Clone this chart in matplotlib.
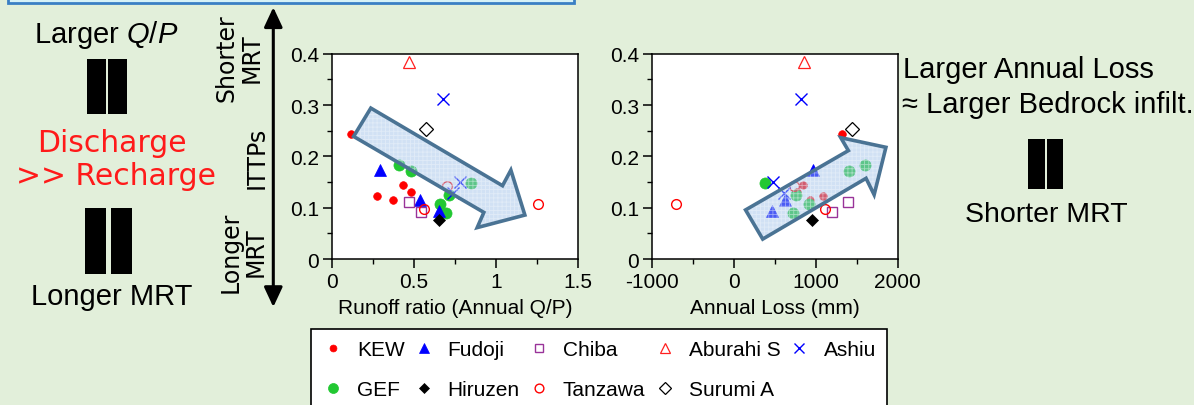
import matplotlib
matplotlib.use("Agg")
import matplotlib.pyplot as plt
from matplotlib.patches import Rectangle, Polygon
from matplotlib.ticker import MultipleLocator, FixedLocator

plt.rcParams['font.family'] = ['Liberation Sans', 'DejaVu Sans']
plt.rcParams['mathtext.fontset'] = 'custom'
plt.rcParams['mathtext.it'] = 'Liberation Sans:italic'
plt.rcParams['mathtext.rm'] = 'Liberation Sans'
plt.rcParams['hatch.linewidth'] = 0.6

# ---------------- data ----------------
kew_qp = [0.116, 0.273, 0.375, 0.432, 0.485]
kew_ittp = [0.244, 0.122, 0.1155, 0.1447, 0.1305]
kew_loss = [1323, 1091, 932, 838, 765]

gef_qp = [0.410, 0.485, 0.848, 0.713, 0.658, 0.699]
gef_ittp = [0.183, 0.171, 0.148, 0.124, 0.108, 0.090]
gef_loss = [1605, 1401, 378, 761, 916, 716]

fud_qp = [0.296, 0.538, 0.654]
fud_ittp = [0.174, 0.114, 0.0935]
fud_loss = [961, 626, 463]

hir_qp = [0.656]
hir_ittp = [0.0753]
hir_loss = [952]

chi_qp = [0.471, 0.544]
chi_ittp = [0.112, 0.0915]
chi_loss = [1393, 1201]

tan_qp = [1.255, 0.705, 0.560]
tan_ittp = [0.107, 0.142, 0.098]
tan_loss = [-715, 732, 1115]

abu_qp = [0.471]
abu_ittp = [0.383]
abu_loss = [851]

sur_qp = [0.571]
sur_ittp = [0.2525]
sur_loss = [1446]

ash_qp = [0.675, 0.781, 0.736]
ash_ittp = [0.3115, 0.1506, 0.128]
ash_loss = [818, 480, 614]

y_ticks = [0, 0.1, 0.2, 0.3, 0.4]
y_ticklabels = ["0", "0.1", "0.2", "0.3", "0.4"]
x1_ticks = [0, 0.5, 1, 1.5]
x1_ticklabels = ["0", "0.5", "1", "1.5"]
x2_ticks = [-1000, 0, 1000, 2000]
x2_ticklabels = ["-1000", "0", "1000", "2000"]

# ---------------- figure ----------------
W, H = 1194, 406
BG = '#e2efda'
fig = plt.figure(figsize=(W / 100, H / 100), dpi=100, facecolor=BG)


def fx(x):
    return x / W


def fy(y):
    return 1 - y / H


ax1 = fig.add_axes([fx(332), fy(260), fx(577.7) - fx(332), fy(54.7) - fy(260)])
ax2 = fig.add_axes([fx(652.3), fy(260), fx(897.7) - fx(652.3), fy(54.7) - fy(260)])

series = [
    # name, xqp, xloss, y, marker, ms, face, edge, mew
    ("KEW", kew_qp, kew_loss, kew_ittp, 'o', 5.5, '#ff0000', '#ff0000', 0.5),
    ("GEF", gef_qp, gef_loss, gef_ittp, 'o', 8.0, '#22c832', '#22c832', 0.5),
    ("Fudoji", fud_qp, fud_loss, fud_ittp, '^', 8.5, '#0000ff', '#0000ff', 0.5),
    ("Hiruzen", hir_qp, hir_loss, hir_ittp, 'D', 6.0, '#000000', '#000000', 0.5),
    ("Chiba", chi_qp, chi_loss, chi_ittp, 's', 7.0, 'none', '#993399', 1.0),
    ("Tanzawa", tan_qp, tan_loss, tan_ittp, 'o', 7.0, 'none', '#ff0000', 1.0),
    ("Aburahi S", abu_qp, abu_loss, abu_ittp, '^', 8.5, 'none', '#ff2020', 0.9),
    ("Surumi A", sur_qp, sur_loss, sur_ittp, 'D', 7.0, 'none', '#000000', 0.9),
    ("Ashiu", ash_qp, ash_loss, ash_ittp, 'x', 8.0, '#0000ff', '#0000ff', 1.0),
]

handles = []
for name, xq, xl, yv, mk, ms, fc, ec, mew in series:
    h, = ax1.plot(xq, yv, linestyle='none', marker=mk, ms=ms, mfc=fc, mec=ec,
                  mew=mew, label=name, zorder=3)
    ax2.plot(xl, yv, linestyle='none', marker=mk, ms=ms, mfc=fc, mec=ec,
             mew=mew, zorder=3)
    handles.append(h)

for ax, xt, xtl, xlim, xminor, xlabel in [
        (ax1, x1_ticks, x1_ticklabels, (0, 1.5), 0.25, "Runoff ratio (Annual Q/P)"),
        (ax2, x2_ticks, x2_ticklabels, (-1000, 2000), 500, "Annual Loss (mm)")]:
    ax.set_facecolor('white')
    ax.set_xlim(*xlim)
    ax.set_ylim(0, 0.4)
    ax.xaxis.set_major_locator(FixedLocator(xt))
    ax.set_xticklabels(xtl)
    ax.yaxis.set_major_locator(FixedLocator(y_ticks))
    ax.set_yticklabels(y_ticklabels)
    ax.xaxis.set_minor_locator(MultipleLocator(xminor))
    ax.yaxis.set_minor_locator(MultipleLocator(0.05))
    ax.tick_params(which='major', direction='out', length=6.5, width=1.1,
                   labelsize=15, pad=3)
    ax.tick_params(which='minor', direction='out', length=3.6, width=1.0)
    for sp in ax.spines.values():
        sp.set_linewidth(1.1)
    ax.set_xlabel(xlabel, fontsize=15, labelpad=5)

# decorative trend arrows (axes-fraction outlines)
arrow_left = [(0.158, 0.735), (0.694, 0.357), (0.728, 0.433), (0.785, 0.214),
              (0.591, 0.153), (0.618, 0.227), (0.088, 0.597)]
arrow_right = [(0.380, 0.239), (0.799, 0.528), (0.768, 0.591), (0.952, 0.544),
               (0.904, 0.313), (0.871, 0.393), (0.450, 0.097)]
for ax, verts in [(ax1, arrow_left), (ax2, arrow_right)]:
    ax.add_patch(Polygon(verts, closed=True, transform=ax.transAxes,
                         facecolor='#9fc2ea', edgecolor='#f2f7fc', hatch='++++',
                         lw=0, alpha=0.48, zorder=4))
    ax.add_patch(Polygon(verts, closed=True, transform=ax.transAxes,
                         fill=False, edgecolor='#4a7394', lw=2.6,
                         joinstyle='miter', zorder=5))

# legend
order = ["KEW", "GEF", "Fudoji", "Hiruzen", "Chiba", "Tanzawa", "Aburahi S",
         "Surumi A", "Ashiu"]
hmap = {h.get_label(): h for h in handles}
leg = fig.legend([hmap[n] for n in order], order, ncol=5, loc='upper left',
                 bbox_to_anchor=(fx(311), fy(330)), bbox_transform=fig.transFigure,
                 borderaxespad=0, fontsize=15, frameon=True, fancybox=False,
                 edgecolor='black', handlelength=1.0, handletextpad=0.65,
                 columnspacing=0.42, labelspacing=1.0, borderpad=0.55,
                 markerscale=0.9, framealpha=1.0)
leg.get_frame().set_linewidth(1.2)
leg.get_frame().set_facecolor('white')

# top banner edge
fig.patches.append(Rectangle((fx(8), fy(4)), fx(574) - fx(8), fy(-12) - fy(4),
                             transform=fig.transFigure, facecolor='#d6f1f7',
                             edgecolor='#3a7fc4', lw=2.0, zorder=0))

# "equal" bars
bars = [(87.3, 106.0, 60, 115), (108.3, 126.7, 60, 115),
        (85.0, 106.0, 209.3, 275), (111.0, 131.7, 209.3, 275),
        (1028.3, 1045.0, 140, 190), (1047.3, 1063.3, 140, 190)]
for x0, x1, y0, y1 in bars:
    fig.patches.append(Rectangle((fx(x0), fy(y1)), fx(x1) - fx(x0), fy(y0) - fy(y1),
                                 transform=fig.transFigure, facecolor='black',
                                 edgecolor='none'))

big = 21
fig.text(fx(106), fy(43.3), r"Larger $\mathit{Q/P}$", ha='center', va='baseline',
         fontsize=big)
fig.text(fx(111.7), fy(151.7), "Discharge", ha='center', va='baseline',
         fontsize=21.5, color='#ff1a1a', family='DejaVu Sans')
fig.text(fx(115.8), fy(185), ">> Recharge", ha='center', va='baseline',
         fontsize=21.5, color='#ff1a1a', family='DejaVu Sans')
fig.text(fx(112), fy(305), "Longer MRT", ha='center', va='baseline', fontsize=big)

fig.text(fx(903), fy(77.7), "Larger Annual Loss", ha='left', va='baseline',
         fontsize=big)
fig.text(fx(902), fy(112.7), "≈ Larger Bedrock infilt.", ha='left', va='baseline',
         fontsize=big)
fig.text(fx(1046.7), fy(221.7), "Shorter MRT", ha='center', va='baseline',
         fontsize=20.5)

# vertical double arrow and its labels
fig.add_artist(matplotlib.patches.FancyArrowPatch(
    (fx(273.3), fy(308)), (fx(273.3), fy(8.3)), transform=fig.transFigure,
    arrowstyle='<|-|>,head_length=0.6,head_width=0.28', mutation_scale=20,
    color='black', lw=2.2, shrinkA=0, shrinkB=0))
fig.text(fx(239), fy(58), "Shorter\nMRT", rotation=90, ha='center', va='center',
         multialignment='center', fontsize=17, family='DejaVu Sans',
         linespacing=1.05)
fig.text(fx(256.7), fy(158), "ITTPs", rotation=90, ha='center', va='center',
         fontsize=17, family='DejaVu Sans')
fig.text(fx(243), fy(252), "Longer\nMRT", rotation=90, ha='center', va='center',
         multialignment='center', fontsize=17, family='DejaVu Sans',
         linespacing=1.05)

fig.savefig("out.png", dpi=100, facecolor=BG)
